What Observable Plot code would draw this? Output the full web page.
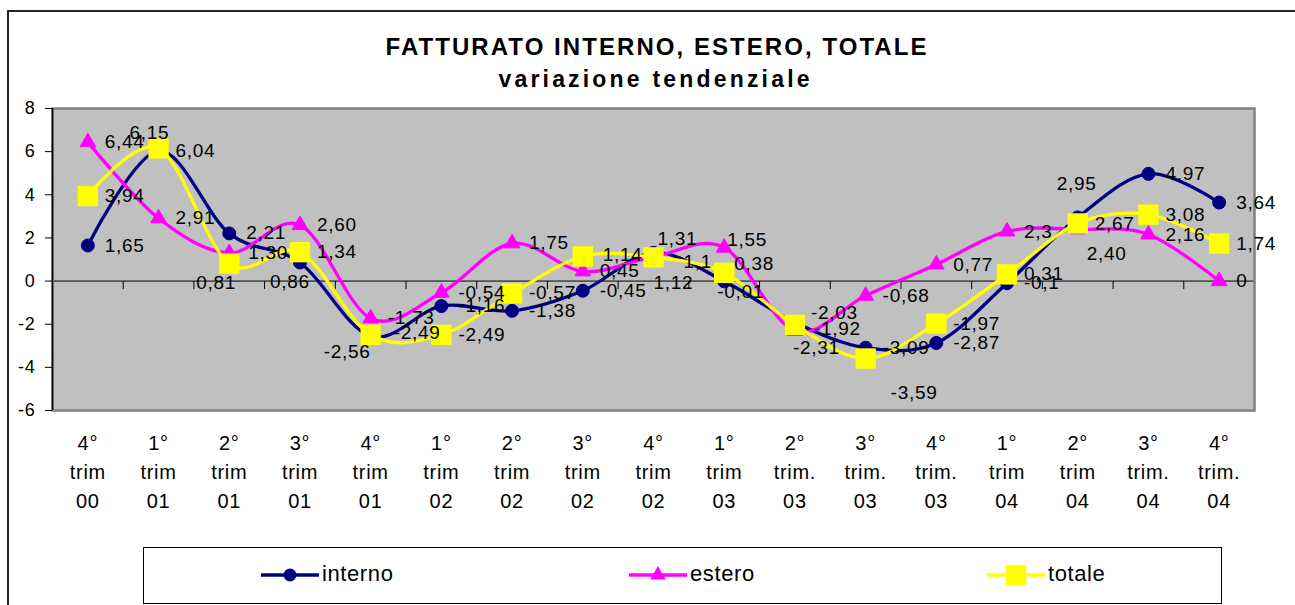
<!DOCTYPE html>
<html><head><meta charset="utf-8">
<script src="https://cdn.jsdelivr.net/npm/d3@7"></script>
<script src="https://cdn.jsdelivr.net/npm/@observablehq/plot@0.6"></script>
<style>
html,body{margin:0;padding:0;background:#fff;overflow:hidden;width:1295px;height:605px;}
#wrap{position:relative;width:1295px;height:605px;font-family:Arial,"Liberation Sans",sans-serif;overflow:hidden;}
#frame{position:absolute;left:7px;top:10px;width:1400px;height:700px;border:2px solid #222;box-sizing:border-box;}
#title{position:absolute;left:0;top:0;}
#chart{position:absolute;left:0;top:95px;}
#chart svg text{letter-spacing:0.7px;}
#legend{position:absolute;left:143px;top:547px;width:1079px;height:57px;border:1.5px solid #000;box-sizing:border-box;background:#fff;}
.li{position:absolute;top:0;height:54px;}
.li svg{position:absolute;top:12px;left:0;}
.li span{position:absolute;left:61px;top:13px;font-size:22px;letter-spacing:0.6px;color:#000;white-space:nowrap;}
</style></head><body>
<div id="wrap">
  <div id="frame"></div>
  <svg id="title" width="1295" height="95" font-family="Arial, 'Liberation Sans', sans-serif" font-weight="bold">
    <text id="t1" x="656" y="55" text-anchor="middle" font-size="24" textLength="541" lengthAdjust="spacing">FATTURATO INTERNO, ESTERO, TOTALE</text>
    <text id="t2" x="654" y="87" text-anchor="middle" font-size="23" textLength="311" lengthAdjust="spacing">variazione tendenziale</text>
  </svg>
  <div id="chart"></div>
  <div id="legend"></div>
</div>
<script>
// ---- data ----
const categories = [
  "4°\ntrim\n00", "1°\ntrim\n01", "2°\ntrim\n01", "3°\ntrim\n01", "4°\ntrim\n01",
  "1°\ntrim\n02", "2°\ntrim\n02", "3°\ntrim\n02", "4°\ntrim\n02",
  "1°\ntrim\n03", "2°\ntrim.\n03", "3°\ntrim.\n03", "4°\ntrim.\n03",
  "1°\ntrim\n04", "2°\ntrim\n04", "3°\ntrim.\n04", "4°\ntrim.\n04"
];
const interno = ["1,65","6,04","2,21","0,86","-2,56","-1,16","-1,38","-0,45","1,31","-0,01","-1,92","-3,09","-2,87","-0,1","2,95","4,97","3,64"];
const estero  = ["6,44","2,91","1,30","2,60","-1,73","-0,54","1,75","0,45","1,12","1,55","-2,31","-0,68","0,77","2,3","2,40","2,16","0"];
const totale  = ["3,94","6,15","0,81","1,34","-2,49","-2,49","-0,57","1,14","1,1","0,38","-2,03","-3,59","-1,97","0,31","2,67","3,08","1,74"];
const yTicks = [-6, -4, -2, 0, 2, 4, 6, 8];
const seriesNames = ["interno", "estero", "totale"];

// ---- styles ----
const colors = {interno: "#000080", estero: "#FF00FF", totale: "#FFFF00"};
const nudges = {
  "interno-3": [-30, 19], "interno-4": [-47, 16], "interno-8": [4, -14], "interno-9": [-7, 11],
  "interno-10": [19, 6], "interno-14": [-21, -34],
  "estero-2": [19, 0], "estero-8": [0, 26], "estero-9": [3, -8], "estero-10": [-2, 17], "estero-14": [9, 25],
  "totale-1": [-29, -16], "totale-2": [-33, 19], "totale-4": [23, -2], "totale-7": [20, -2],
  "totale-8": [30, 5], "totale-9": [10, -9], "totale-10": [16, -12], "totale-11": [25, 34]
};

const raw = {interno, estero, totale};
const rows = seriesNames.flatMap(s => raw[s].map((t, i) => ({series: s, i, label: t, v: +t.replace(",", ".")})));

const tickDown = {draw(ctx) { ctx.moveTo(0, 0); ctx.lineTo(0, 8); }};
const bounds = d3.range(0.5, 17, 1);

const symbolOf = {interno: "circle", estero: "triangle", totale: "square"};
const rOf = {interno: 6.5, estero: 5.8, totale: 11.5};

const marks = [
  Plot.frame({fill: "#C0C0C0"}),
  Plot.ruleY([0], {stroke: "#000", strokeWidth: 1}),
  Plot.dot(bounds, {x: d => d, y: () => 0, symbol: tickDown, fill: "none", stroke: "#000", strokeWidth: 1, r: 1}),
  Plot.frame({stroke: "#808080", strokeWidth: 2.5}),
  Plot.ruleX([-0.5], {stroke: "#000", strokeWidth: 1.5}),
  Plot.axisY(yTicks, {label: null, tickSize: 7, tickPadding: 10, fontSize: 18, tickFormat: d => String(d), stroke: "#000"}),
  Plot.axisX(d3.range(categories.length), {label: null, anchor: "bottom", tickSize: 0, tickPadding: 19, fontSize: 20, lineHeight: 1.45, tickFormat: i => categories[i]})
];
for (const s of seriesNames) {
  const d = rows.filter(r => r.series === s);
  marks.push(Plot.line(d, {x: "i", y: "v", stroke: colors[s], strokeWidth: 3.3, curve: "cardinal"}));
  marks.push(Plot.dot(d, {x: "i", y: "v", symbol: symbolOf[s], r: rOf[s], fill: colors[s], stroke: s === "totale" ? "none" : colors[s], strokeWidth: 1}));
}
for (const r of rows) {
  const [dx, dy] = nudges[r.series + "-" + r.i] || [17, 0];
  marks.push(Plot.text([r], {x: "i", y: "v", text: "label", dx, dy, textAnchor: "start", lineAnchor: "middle", fontSize: 19, fill: "#000"}));
}

const chart = Plot.plot({
  width: 1295, height: 440,
  marginTop: 13, marginBottom: 125, marginLeft: 52, marginRight: 41,
  x: {type: "linear", domain: [-0.5, categories.length - 0.5], axis: null},
  y: {domain: [-6, 8], axis: null},
  style: {fontFamily: "Arial, 'Liberation Sans', sans-serif", color: "#000", background: "transparent", overflow: "visible"},
  marks
});
document.getElementById("chart").appendChild(chart);

// ---- legend ----
const legendPos = {interno: 117, estero: 485, totale: 843};
const lg = document.getElementById("legend");
for (const s of seriesNames) {
  const item = document.createElement("div");
  item.className = "li";
  item.style.left = legendPos[s] + "px";
  const sym = d3.symbol(d3[{circle: "symbolCircle", triangle: "symbolTriangle", square: "symbolSquare"}[symbolOf[s]]], Math.PI * rOf[s] * rOf[s])();
  item.innerHTML = `<svg width="60" height="30"><line x1="0" y1="15" x2="58" y2="15" stroke="${colors[s]}" stroke-width="3.3"/>` +
    `<path d="${sym}" transform="translate(29,15)" fill="${colors[s]}"/></svg><span>${s}</span>`;
  lg.appendChild(item);
}
</script>
</body></html>
